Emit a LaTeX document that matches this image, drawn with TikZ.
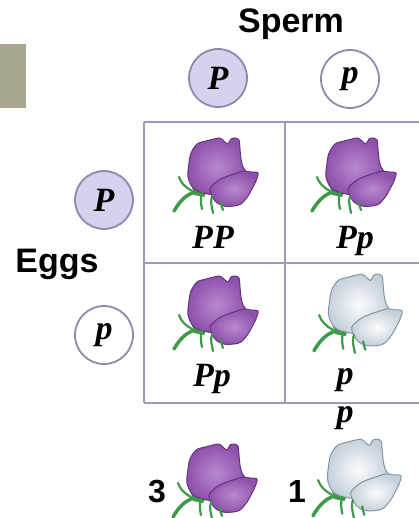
\documentclass[tikz,border=0pt]{standalone}
\usepackage{fontspec}
\setmainfont{Liberation Serif}
\setsansfont{Liberation Sans}
\definecolor{gridc}{HTML}{9C9AB8}
\definecolor{circd}{HTML}{8E8AAA}
\definecolor{circf}{HTML}{D4D2EC}
\definecolor{grayrect}{HTML}{A9A78E}
\definecolor{puL}{HTML}{B98AD0}
\definecolor{puM}{HTML}{8E50AA}
\definecolor{puD}{HTML}{653580}
\definecolor{whL}{HTML}{FAFCFD}
\definecolor{whM}{HTML}{C5D0D9}
\definecolor{whD}{HTML}{8396A4}
\definecolor{stemc}{HTML}{3E9A48}
\newcommand\labfont{\fontsize{34}{36}\selectfont\bfseries\itshape}
\newcommand\headfont{\sffamily\fontsize{34}{36}\selectfont\bfseries}
\newcommand\numfont{\sffamily\fontsize{32}{34}\selectfont\bfseries}
\tikzset{
  gamete/.style={circle, draw=circd, line width=1.8pt, minimum size=58pt, inner sep=0pt, font=\labfont},
  geno/.style={anchor=base, inner sep=0pt, font=\labfont},
  head/.style={anchor=base, inner sep=0pt, font=\headfont},
  ratio/.style={anchor=base, inner sep=0pt, font=\numfont},
  gridline/.style={draw=gridc, line width=2pt},
  stemline/.style={draw=stemc, line cap=round},
  pics/flower/.style={code={
    \draw[stemline, line width=3.5pt] (-42,36) .. controls (-35,24) and (-28,18) .. (-17,16);
    \draw[stemline, line width=2.2pt] (-24,16) .. controls (-31,12) and (-35,8) .. (-37,2);
    \fill[stemc] (-24,12) -- (-8,14) -- (-12,22) -- (-22,20) -- cycle;
    \path[draw=#1D, line width=1pt, shade, inner color=#1L, outer color=#1M]
      plot[smooth cycle, tension=0.5] coordinates {(-28,2) (-27,-12) (-25,-22) (-19,-31) (-10,-34) (-2,-36) (4,-37) (9,-33) (12,-31) (15,-36) (19,-37) (23,-35) (24,-26) (25,-16) (27,-8) (30,-3) (28,8) (12,20) (-8,19) (-22,14)};
    \path[draw=#1D, line width=1pt, shade, inner color=#1L, outer color=#1M]
      plot[smooth cycle, tension=0.5] coordinates {(-6,14) (3,5) (12,1) (21,-2) (28,-4) (35,-3) (42,-2) (40,6) (37,12) (32,21) (25,29) (18,31) (8,31) (-1,26)};
    \draw[stemline, line width=2.2pt] (-14,18) .. controls (-16,24) and (-15,29) .. (-14,34);
    \draw[stemline, line width=2.2pt] (-4,21) .. controls (-6,27) and (-4,32) .. (-3,38);
    \draw[stemline, line width=2.2pt] (5,27) .. controls (5,30) and (6,32) .. (7,35);
  }}
}
\begin{document}
\begin{tikzpicture}[x=1pt, y=-1pt]
\useasboundingbox (0,0) rectangle (418,518);
\fill[grayrect] (0,44) rectangle (26,108);
% Punnett grid
\path[gridline] (144,122) -- (430,122);
\path[gridline] (144,263) -- (430,263);
\path[gridline] (144,403) -- (430,403);
\path[gridline] (144,122) -- (144,403);
\path[gridline] (285,122) -- (285,403);
% headings
\node[head] (sperm) at (291,33) {Sperm};
\node[head] (eggs) at (57,272) {Eggs};
% gametes
\node[gamete, fill=circf] (spP) at (218,78) {P};
\node[gamete, fill=white] (spp) at (350,79) {p};
\node[gamete, fill=circf] (egP) at (104,200) {P};
\node[gamete, fill=white] (egp) at (104,335) {p};
% flowers
\pic at (216,175) {flower=pu};
\pic at (354,175) {flower=pu};
\pic at (216,313) {flower=pu};
\pic[scale=1.05] at (358,313) {flower=wh};
\pic at (215,481) {flower=pu};
\pic[scale=1.05] at (357,478) {flower=wh};
% genotypes
\node[geno] (g11) at (213,248) {PP};
\node[geno] (g12) at (355,248) {Pp};
\node[geno] (g21) at (212,386) {Pp};
\node[geno] (g22a) at (345,384) {p};
\node[geno] (g22b) at (345,422) {p};
% ratio
\node[ratio] (three) at (157,502) {3};
\node[ratio] (one) at (297,502) {1};
\end{tikzpicture}
\end{document}
